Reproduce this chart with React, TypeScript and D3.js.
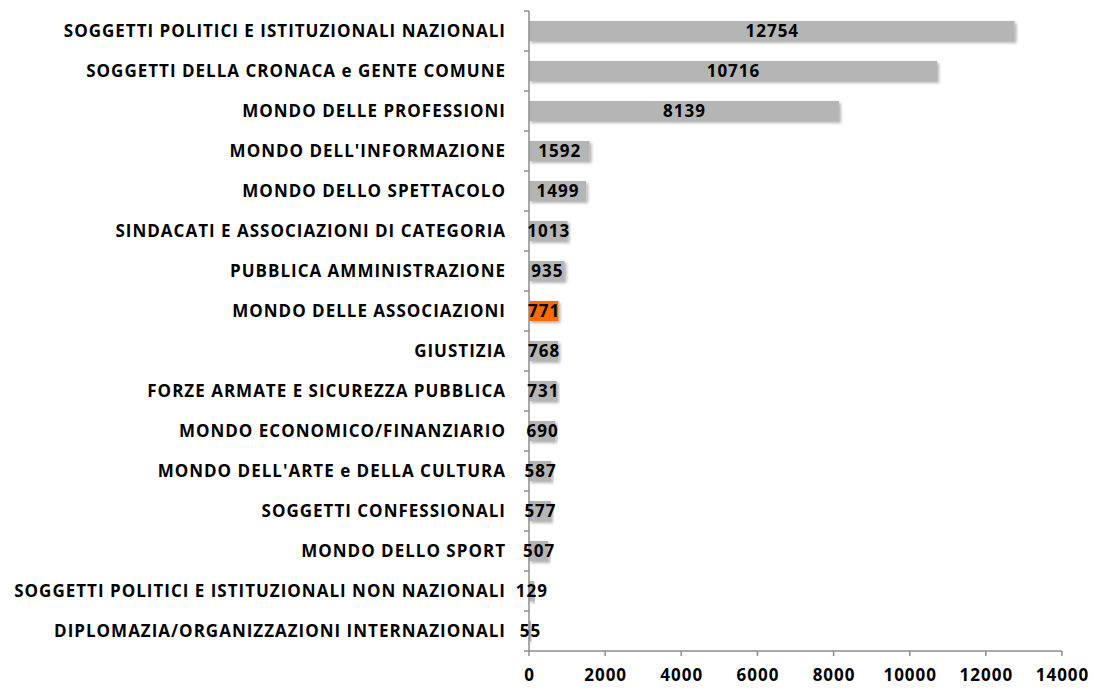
import React from "react";
import * as d3 from "d3";

const categories = [
  "SOGGETTI POLITICI E ISTITUZIONALI NAZIONALI",
  "SOGGETTI DELLA CRONACA e GENTE COMUNE",
  "MONDO DELLE PROFESSIONI",
  "MONDO DELL'INFORMAZIONE",
  "MONDO DELLO SPETTACOLO",
  "SINDACATI E ASSOCIAZIONI DI CATEGORIA",
  "PUBBLICA AMMINISTRAZIONE",
  "MONDO DELLE ASSOCIAZIONI",
  "GIUSTIZIA",
  "FORZE ARMATE E SICUREZZA PUBBLICA",
  "MONDO ECONOMICO/FINANZIARIO",
  "MONDO DELL'ARTE e DELLA CULTURA",
  "SOGGETTI CONFESSIONALI",
  "MONDO DELLO SPORT",
  "SOGGETTI POLITICI E ISTITUZIONALI NON NAZIONALI",
  "DIPLOMAZIA/ORGANIZZAZIONI INTERNAZIONALI",
];
const values = [12754, 10716, 8139, 1592, 1499, 1013, 935, 771, 768, 731, 690, 587, 577, 507, 129, 55];
const highlighted = ["MONDO DELLE ASSOCIAZIONI"];
const xTicks = [0, 2000, 4000, 6000, 8000, 10000, 12000, 14000];

const W = 1095;
const H = 689;
const left = 529;
const right = 1062;
const top = 11;
const bottom = 651;
const font = "'Open Sans', sans-serif";
const fs = 17;
const ls = 1;

export default function App() {
  const x = d3.scaleLinear().domain([0, 14000]).range([left, right]);
  const y = d3.scaleBand().domain(categories).range([top, bottom]).paddingInner(0.5).paddingOuter(0.25);
  const step = y.step();

  const txt = { fontFamily: font, fontWeight: "bold", fontSize: fs, letterSpacing: ls, fill: "#000" } as const;

  return (
    <svg width={W} height={H} style={{ position: "absolute", left: 0, top: 0, background: "#fff" }}>
      <defs>
        <filter id="shadow" x="-5%" y="-30%" width="115%" height="190%">
          <feDropShadow dx="2" dy="2" stdDeviation="1.5" floodColor="#000" floodOpacity="0.3" />
        </filter>
      </defs>
      {categories.map((c, i) => (
        <rect
          key={c}
          x={x(0)}
          y={y(c)!}
          width={x(values[i]) - x(0)}
          height={y.bandwidth()}
          fill={highlighted.includes(c) ? "#ff6a00" : "#b5b5b5"}
          filter="url(#shadow)"
        />
      ))}
      {/* axes */}
      <line x1={left} x2={left} y1={top} y2={bottom} stroke="#8c8c8c" strokeWidth={1.5} />
      <line x1={left} x2={right} y1={bottom} y2={bottom} stroke="#8c8c8c" strokeWidth={1.5} />
      {d3.range(categories.length + 1).map((i) => (
        <line key={"yt" + i} x1={left - 5} x2={left} y1={top + i * step} y2={top + i * step} stroke="#8c8c8c" strokeWidth={1.5} />
      ))}
      {xTicks.map((t) => (
        <g key={t}>
          <line x1={x(t)} x2={x(t)} y1={bottom} y2={bottom + 5} stroke="#8c8c8c" strokeWidth={1.5} />
          <text x={x(t) + ls / 2} y={bottom + 30} textAnchor="middle" {...txt}>
            {t}
          </text>
        </g>
      ))}
      {categories.map((c, i) => (
        <g key={"l" + c}>
          <text x={left - 23} y={y(c)! + y.bandwidth() / 2} dy="0.38em" textAnchor="end" {...txt}>
            {c}
          </text>
          <text x={(x(0) + x(values[i])) / 2 + ls / 2} y={y(c)! + y.bandwidth() / 2} dy="0.38em" textAnchor="middle" {...txt}>
            {values[i]}
          </text>
        </g>
      ))}
    </svg>
  );
}
